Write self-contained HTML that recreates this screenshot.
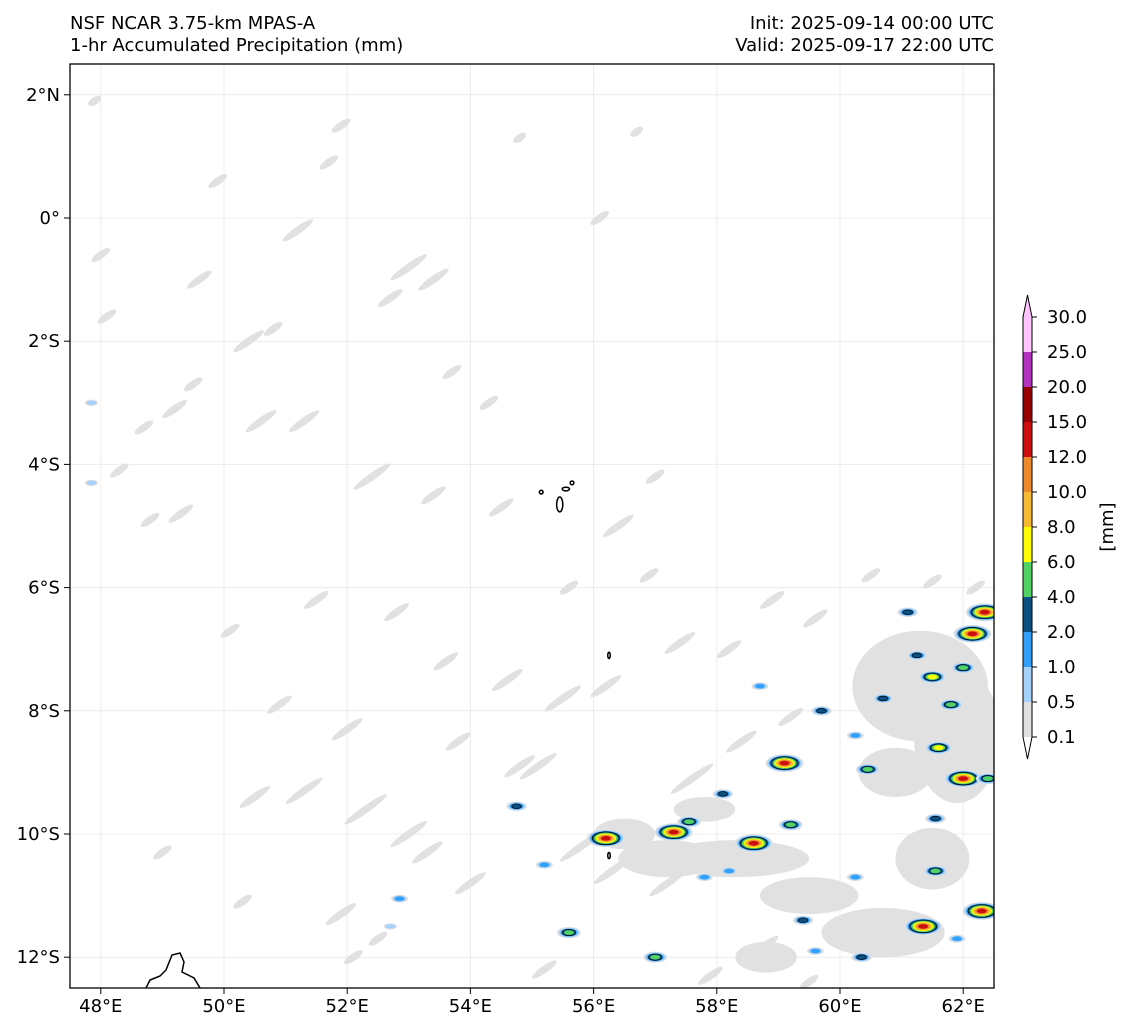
<!DOCTYPE html>
<html><head><meta charset="utf-8"><style>
body{margin:0;background:#fff;font-family:"DejaVu Sans","Liberation Sans",sans-serif;}
svg text{font-family:"DejaVu Sans","Liberation Sans",sans-serif;font-size:18px;fill:#000;}
</style></head><body>
<svg id="fig" width="1130" height="1032" viewBox="0 0 1130 1032" xmlns="http://www.w3.org/2000/svg">
<text x="70" y="29">NSF NCAR 3.75-km MPAS-A</text>
<text x="70" y="51">1-hr Accumulated Precipitation (mm)</text>
<text x="994" y="29" text-anchor="end">Init: 2025-09-14 00:00 UTC</text>
<text x="994" y="51" text-anchor="end">Valid: 2025-09-17 22:00 UTC</text>
<defs><clipPath id="clip"><rect x="70" y="64" width="924" height="924"/></clipPath></defs>
<g id="grid"></g>
<g id="map" clip-path="url(#clip)"></g>
<rect x="70" y="64" width="924" height="924" fill="none" stroke="#000" stroke-width="1.3"/>
<g id="axes"></g>
<g id="cbar"></g>
<text transform="translate(1113,527) rotate(-90)" text-anchor="middle">[mm]</text>
</svg>
<script>
const lonTicks=[48,50,52,54,56,58,60,62];
const latTicks=[2,0,-2,-4,-6,-8,-10,-12];
const levels=[0.1,0.5,1,2,4,6,8,10,12,15,20,25,30];
const levelColors=["#e1e1e1","#a5d2fa","#32a0fa","#0a5082","#50d264","#ffff00","#f5b932","#ef8a2b","#cc0e0e","#960000","#b432be","#ffc4ff"];
const grayLon=[51.2,53.0,52.7,53.4,49.6,50.4,50.6,49.2,48.7,48.8,49.3,48.1,47.9,51.9,51.7,56.1,54.8,56.7,49.9,51.3,52.4,53.4,54.5,56.4,57.0,58.9,57.4,58.2,55.5,56.2,54.6,53.8,52.0,50.9,51.3,50.5,52.3,53.0,53.3,54.0,51.9,54.8,55.1,53.6,52.8,51.5,57.6,58.4,59.2,59.6,55.6,56.9,54.3,53.7,50.8,49.5,48.3,48.0,50.1,55.2,57.9,58.8,59.5,56.3,57.2,55.8,52.5,52.1,49.0,50.3,60.5,61.5,62.2];
const grayLat=[-0.2,-0.8,-1.3,-1.0,-1.0,-2.0,-3.3,-3.1,-3.4,-4.9,-4.8,-1.6,1.9,1.5,0.9,0.0,1.3,1.4,0.6,-3.3,-4.2,-4.5,-4.7,-5.0,-4.2,-6.2,-6.9,-7.0,-7.8,-7.6,-7.5,-8.5,-8.3,-7.9,-9.3,-9.4,-9.6,-10.0,-10.3,-10.8,-11.3,-8.9,-8.9,-7.2,-6.4,-6.2,-9.1,-8.5,-8.1,-6.5,-6.0,-5.8,-3.0,-2.5,-1.8,-2.7,-4.1,-0.6,-6.7,-12.2,-12.3,-11.8,-12.4,-10.6,-10.8,-10.2,-11.7,-12.0,-10.3,-11.1,-5.8,-5.9,-6.0];
const grayLen=[0.5,0.6,0.4,0.5,0.4,0.5,0.5,0.4,0.3,0.3,0.4,0.3,0.2,0.3,0.3,0.3,0.2,0.2,0.3,0.5,0.6,0.4,0.4,0.5,0.3,0.4,0.5,0.4,0.6,0.5,0.5,0.4,0.5,0.4,0.6,0.5,0.7,0.6,0.5,0.5,0.5,0.5,0.6,0.4,0.4,0.4,0.7,0.5,0.4,0.4,0.3,0.3,0.3,0.3,0.3,0.3,0.3,0.3,0.3,0.4,0.4,0.4,0.3,0.6,0.6,0.7,0.3,0.3,0.3,0.3,0.3,0.3,0.3];
const patchLon=[61.3,61.9,60.9,58.3,57.2,56.5,59.5,60.7,58.8,61.5,57.8];
const patchLat=[-7.6,-8.4,-9.0,-10.4,-10.4,-10.0,-11.0,-11.6,-12.0,-10.4,-9.6];
const patchRx=[1.1,0.7,0.6,1.2,0.8,0.5,0.8,1.0,0.5,0.6,0.5];
const patchRy=[0.9,1.1,0.4,0.3,0.3,0.25,0.3,0.4,0.25,0.5,0.2];
const cellLon=[62.15,62.35,61.1,61.25,61.5,62.0,61.8,60.7,59.7,58.7,61.6,62.0,62.4,60.25,60.45,59.1,58.1,59.2,61.55,57.55,57.3,56.2,58.6,54.75,55.2,57.8,60.25,61.55,62.3,61.35,59.4,55.6,57.0,60.35,52.85,52.7,58.2,59.6,61.9,47.85,47.85];
const cellLat=[-6.75,-6.4,-6.4,-7.1,-7.45,-7.3,-7.9,-7.8,-8.0,-7.6,-8.6,-9.1,-9.1,-8.4,-8.95,-8.85,-9.35,-9.85,-9.75,-9.8,-9.97,-10.07,-10.15,-9.55,-10.5,-10.7,-10.7,-10.6,-11.25,-11.5,-11.4,-11.6,-12.0,-12.0,-11.05,-11.5,-10.6,-11.9,-11.7,-3.0,-4.3];
const cellMax=[8,8,3,3,5,4,4,3,3,2,5,8,4,2,4,8,3,4,3,4,8,8,8,3,2,2,2,4,8,8,3,4,4,3,2,1,2,2,2,1,1];

const NS="http://www.w3.org/2000/svg";
const x0=70,y0=64,W=924;
const X=lon=>x0+(lon-47.5)/15*W;
const Y=lat=>y0+(2.5-lat)/15*W;
const S=d=>d/15*W;
function mk(tag,attrs,parent){const e=document.createElementNS(NS,tag);for(const k in attrs)e.setAttribute(k,attrs[k]);parent.appendChild(e);return e;}
const grid=document.getElementById('grid'),map=document.getElementById('map'),axes=document.getElementById('axes'),cbar=document.getElementById('cbar');
lonTicks.forEach(l=>{
  const gl=mk('line',{x1:X(l),x2:X(l),y1:64,y2:988,stroke:'#ececec','stroke-width':1},grid);
  
  
  const t=mk('line',{x1:X(l),x2:X(l),y1:988,y2:994,stroke:'#000'},axes);
  
  
  const tx=mk('text',{x:X(l),y:1012,'text-anchor':'middle'},axes);
  tx.textContent=l+'°E';
  
  
});
latTicks.forEach(l=>{
  const gl=mk('line',{y1:Y(l),y2:Y(l),x1:70,x2:994,stroke:'#ececec','stroke-width':1},grid);
  
  
  const t=mk('line',{y1:Y(l),y2:Y(l),x1:64,x2:70,stroke:'#000'},axes);
  
  
  const tx=mk('text',{x:60,y:Y(l)+6,'text-anchor':'end'},axes);
  tx.textContent=l===0?'0°':(Math.abs(l)+'°'+(l>0?'N':'S'));
  
  
});
patchLon.forEach((lo,i)=>{
  const e=mk('ellipse',{cx:X(lo),cy:Y(patchLat[i]),rx:S(patchRx[i]),ry:S(patchRy[i]),fill:levelColors[0]},map);
  
  
});
grayLon.forEach((lo,i)=>{
  const e=mk('ellipse',{cx:X(lo),cy:Y(grayLat[i]),rx:S(grayLen[i]*0.6),ry:S(0.06),fill:levelColors[0],transform:`rotate(-35 ${X(lo)} ${Y(grayLat[i])})`},map);
  
  
});
cellLon.forEach((lo,i)=>{
  const g=mk('g',{},map);
  
  
  const cx=X(lo),cy=Y(cellLat[i]);
  for(let k=0;k<=cellMax[i];k++){
    const r=Math.max(1.2,(cellMax[i]-k+1)*1.1+2);
    mk('ellipse',{cx:cx,cy:cy,rx:r*1.6,ry:r*0.75,fill:levelColors[k],stroke:k===3?'#000':'none','stroke-width':0.7},g);
  }
});
const isl=[[55.45,-4.65,0.05,0.12],[55.55,-4.4,0.06,0.03],[55.15,-4.45,0.03,0.03],[55.65,-4.3,0.03,0.03],[56.25,-7.1,0.02,0.05],[56.25,-10.35,0.02,0.05]];
isl.forEach(a=>{
  const e=mk('ellipse',{cx:X(a[0]),cy:Y(a[1]),rx:S(a[2]),ry:S(a[3]),fill:'none',stroke:'#000','stroke-width':1.5},map);
  
  
});
const mad=mk('path',{d:`M146,988 L150,980 L160,976 L166,970 L172,955 L180,953 L184,962 L182,972 L194,978 L200,988`,fill:'none',stroke:'#000','stroke-width':1.5},map);


const cbX=1023,cbW=9,cbTop=317,step=35;
levelColors.forEach((c,i)=>{
  const r=mk('rect',{x:cbX,y:cbTop+(levelColors.length-1-i)*step,width:cbW,height:step,fill:c},cbar);
  
  
});
const bottom=cbTop+levelColors.length*step;
mk('polygon',{points:`${cbX},${cbTop} ${cbX+cbW/2},${cbTop-22} ${cbX+cbW},${cbTop}`,fill:levelColors[11]},cbar);
mk('polygon',{points:`${cbX},${bottom} ${cbX+cbW/2},${bottom+22} ${cbX+cbW},${bottom}`,fill:'#fff'},cbar);
mk('polygon',{points:`${cbX},${cbTop} ${cbX+cbW/2},${cbTop-22} ${cbX+cbW},${cbTop} ${cbX+cbW},${bottom} ${cbX+cbW/2},${bottom+22} ${cbX},${bottom}`,fill:'none',stroke:'#000','stroke-width':1},cbar);
levels.forEach((v,i)=>{
  const y=bottom-i*step;
  mk('line',{x1:cbX+cbW,x2:cbX+cbW+5,y1:y,y2:y,stroke:'#000'},cbar);
  const t=mk('text',{x:1047,y:y+6},cbar);
  t.textContent=v.toFixed(1);
  
  
});
</script>
</body></html>
